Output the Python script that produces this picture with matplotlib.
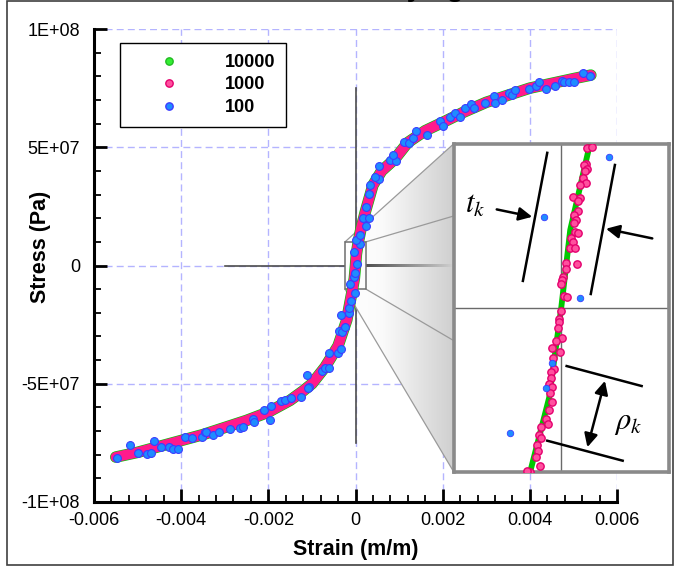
import numpy as np
import matplotlib
matplotlib.use("Agg")
import matplotlib.pyplot as plt
from matplotlib.lines import Line2D
from matplotlib.patches import Rectangle, Polygon
from matplotlib.colors import LinearSegmentedColormap
from matplotlib.ticker import AutoMinorLocator

plt.rcParams["font.family"] = ["Liberation Sans", "DejaVu Sans"]
plt.rcParams["axes.unicode_minus"] = False
plt.rcParams["mathtext.fontset"] = "stix"

# ---- data -------------------------------------------------------------
# mean response curve (10000 / 1000 sample runs), strain in 1e-3, stress in 1e7 Pa
curve_strain = np.array([-5.5, -5.0, -4.5, -4.0, -3.5, -3.0, -2.5, -2.0, -1.5, -1.2,
                         -1.0, -0.7, -0.4, -0.2, -0.12, -0.069, -0.027, 0.0, 0.020,
                         0.063, 0.12, 0.23, 0.4, 0.6, 0.9, 1.2, 1.6, 2.0, 2.5, 3.0,
                         3.5, 4.0, 4.5, 5.0, 5.4]) * 1e-3
curve_stress = np.array([-8.1, -7.9, -7.65, -7.4, -7.15, -6.85, -6.55, -6.2, -5.7, -5.3,
                         -5.0, -4.3, -3.4, -2.3, -1.5, -1.0, -0.55, 0.0, 0.475,
                         0.99, 1.5, 2.3, 3.4, 4.0, 4.5, 5.2, 5.7, 6.05, 6.5, 6.9,
                         7.2, 7.5, 7.7, 7.9, 8.05]) * 1e7

# 1000-sample points near the origin (strain in 1e-6, stress in 1e6 Pa)
pink_strain = np.array([56.7, 68.7, 55.2, 51.5, 56.7, 53.0, 47.7, 55.2, 42.5, 25.2,
                        42.5, 37.9, 36.4, 28.9, 32.7, 28.9, 31.2, 37.9, 21.4, 25.2,
                        19.9, 31.2, 34.9, 10.1, 10.1, 4.9, 2.6, -1.1, 6.4, 12.4,
                        0.4, -4.9, -4.9, -7.1, 2.6, -12.4, -19.9, -2.6, -17.7, -16.2,
                        -23.7, -23.7, -27.4, -21.4, -25.9, -19.9, -27.4, -34.9, -29.7, -46.2,
                        -49.9, -46.2, -53.7, -51.5, -56.0, -47.7, -68.7, -76.2]) * 1e-6
pink_stress = np.array([9.73, 9.79, 8.80, 8.70, 8.49, 8.35, 7.94, 7.63, 7.47, 6.77,
                        6.70, 6.50, 5.88, 5.68, 5.37, 5.16, 4.65, 4.55, 4.24, 4.03,
                        3.62, 3.62, 2.69, 2.74, 2.39, 1.87, 1.71, 1.46, 0.74, 0.68,
                        -0.19, -0.70, -0.90, -1.21, -1.83, -2.04, -2.45, -2.69, -3.06, -3.72,
                        -3.93, -4.30, -4.67, -4.87, -5.22, -5.74, -6.25, -6.77, -7.12, -7.28,
                        -7.79, -7.96, -8.41, -8.72, -9.13, -9.65, -10.0, -9.95]) * 1e6

# 100-sample points (strain in 1e-3, stress in 1e7 Pa)
blue_strain = np.array([-5.48, -5.18, -5.00, -4.79, -4.70, -4.63, -4.47, -4.27, -4.18, -4.08,
                        -3.92, -3.76, -3.53, -3.46, -3.42, -3.28, -3.14, -2.87, -2.64, -2.59,
                        -2.36, -2.34, -2.11, -1.97, -1.95, -1.70, -1.61, -1.49, -1.26, -1.12,
                        -1.06, -1.10, -0.76, -0.71, -0.60, -0.60, -0.41, -0.34, -0.37, -0.30,
                        -0.25, -0.34, -0.14, -0.14, -0.11, -0.02, -0.115, -0.034, -0.020, 0.042,
                        -0.039, 0.106, 0.02, 0.11, 0.23, 0.18, 0.32, 0.23, 0.30, 0.34,
                        0.53, 0.44, 0.55, 0.80, 0.92, 0.87, 1.12, 1.22, 1.31, 1.38,
                        1.63, 1.93, 2.00, 2.16, 2.29, 2.39, 2.52, 2.64, 2.73, 2.96,
                        3.17, 3.21, 3.37, 3.53, 3.60, 3.67, 3.99, 4.15, 4.22, 4.36,
                        4.57, 4.73, 4.79, 4.91, 5.02, 5.21, 5.39]) * 1e-3
blue_stress = np.array([-8.12, -7.61, -7.91, -7.99, -7.91, -7.44, -7.69, -7.69, -7.78, -7.74,
                        -7.27, -7.31, -7.27, -7.02, -7.06, -7.15, -7.02, -6.93, -6.85, -6.81,
                        -6.47, -6.60, -6.09, -6.55, -5.92, -5.75, -5.67, -5.62, -5.58, -4.65,
                        -5.12, -5.16, -4.48, -4.35, -4.35, -3.72, -3.72, -3.55, -2.79, -2.83,
                        -2.62, -2.11, -1.99, -1.78, -1.48, -1.18, -0.765, -0.491, -0.337, 0.059,
                        0.557, 0.921, 1.06, 1.31, 1.65, 1.99, 1.99, 2.49, 3.04, 3.42,
                        3.64, 3.76, 4.19, 4.44, 4.40, 4.69, 5.24, 5.20, 5.37, 5.67,
                        5.50, 6.09, 5.88, 6.30, 6.43, 6.30, 6.68, 6.81, 6.64, 6.89,
                        7.15, 6.89, 6.98, 7.31, 7.19, 7.40, 7.48, 7.57, 7.78, 7.48,
                        7.61, 7.82, 7.74, 7.78, 7.74, 8.16, 8.03]) * 1e7

series_labels = ["10000", "1000", "100"]
x_ticks = [-0.006, -0.004, -0.002, 0, 0.002, 0.004, 0.006]
x_tick_labels = ["-0.006", "-0.004", "-0.002", "0", "0.002", "0.004", "0.006"]
y_ticks = [-1e8, -5e7, 0, 5e7, 1e8]
y_tick_labels = ["-1E+08", "-5E+07", "0", "5E+07", "1E+08"]

# zoomed window
zoom_x = 0.24e-3
zoom_y = 1e7

green = "#00c800"
pink = "#ff1a8c"
pink_face, pink_edge = "#ff509e", "#e4006e"
blue_face, blue_edge = "#1e8cff", "#3c3cff"

# ---- figure -----------------------------------------------------------
W, H = 682, 566
fig = plt.figure(figsize=(W / 100, H / 100), dpi=100)
fig.patches.append(Rectangle((7 / W, 1 / H), 666 / W, 564 / H, fill=False,
                             ec="#404040", lw=1.2, transform=fig.transFigure))
# title sits above the frame, only its descenders show
fig.text(0.437, 1.0075, "Stress-Strain Curves at Varying Rates", fontsize=20,
         fontweight="bold", ha="center", va="baseline")

ax = fig.add_axes([94 / W, 64 / H, 523 / W, 473 / H])
ax.set_xlim(-0.006, 0.006)
ax.set_ylim(-1e8, 1e8)
ax.spines[["top", "right"]].set_visible(False)
for s in ["left", "bottom"]:
    ax.spines[s].set_linewidth(2.2)
ax.set_xticks(x_ticks)
ax.set_xticklabels(x_tick_labels)
ax.set_yticks(y_ticks)
ax.set_yticklabels(y_tick_labels)
ax.xaxis.set_minor_locator(AutoMinorLocator(5))
ax.yaxis.set_minor_locator(AutoMinorLocator(5))
ax.tick_params(which="major", direction="in", length=9.5, width=2, labelsize=13)
ax.tick_params(axis="x", which="major", pad=7)
ax.tick_params(axis="y", which="major", pad=10)
ax.tick_params(which="minor", direction="in", length=5, width=1.3)
ax.grid(True, which="major", color="#b4b4ff", ls=(0, (5, 3)), lw=1)
ax.set_xlabel("Strain (m/m)", fontsize=15.5, fontweight="bold")
ax.set_ylabel("Stress (Pa)", fontsize=15.5, fontweight="bold")
ax.xaxis.set_label_coords(0.5, -0.078)
ax.yaxis.set_label_coords(-0.082, 0.54)

# crosshair through the origin
ax.plot([0, 0], [-7.5e7, 7.5e7], color="#4d4d4d", lw=1.2, zorder=1.8)
ax.plot([-0.003, -zoom_x], [0, 0], color="#4d4d4d", lw=1.2, zorder=1.8)

# curves
ax.plot(curve_strain, curve_stress, color=green, lw=8.3, solid_capstyle="round", zorder=3)
ax.plot(curve_strain, curve_stress, color=pink, lw=7.4, solid_capstyle="round", zorder=3.2)
ax.scatter(blue_strain, blue_stress, s=32, c=blue_face, edgecolors=blue_edge,
           linewidths=0.8, zorder=4)

# legend
handles = [
    Line2D([], [], ls="none", marker="o", ms=5.3, mfc="#33ee33", mec="#22bb22"),
    Line2D([], [], ls="none", marker="o", ms=5.3, mfc=pink_face, mec=pink_edge),
    Line2D([], [], ls="none", marker="o", ms=5.3, mfc=blue_face, mec=blue_edge),
]
leg = ax.legend(handles, series_labels, loc="upper left", bbox_to_anchor=(0.0497, 0.970),
                borderaxespad=0, fancybox=False, framealpha=1, edgecolor="black",
                prop={"size": 13, "weight": "bold"}, handlelength=4.2,
                handletextpad=1.0, borderpad=0.6, labelspacing=0.3)
leg.get_frame().set_linewidth(1)
leg.set_zorder(6)

# inset
axins = fig.add_axes([453.5 / W, 94.5 / H, 215.5 / W, 327.5 / H])
axins.set_xlim(-zoom_x, zoom_x)
axins.set_ylim(-zoom_y, zoom_y)
axins.set_xticks([])
axins.set_yticks([])
for s in axins.spines.values():
    s.set_linewidth(2.6)
    s.set_color("#8a8a8a")
axins.axvline(0, color="#6a6a6a", lw=1)
axins.axhline(0, color="#6a6a6a", lw=1)
axins.plot(curve_strain, curve_stress, color=green, lw=4.2, zorder=3)
axins.scatter(pink_strain, pink_stress, s=28, c=pink_face, edgecolors=pink_edge,
              linewidths=1, zorder=4)
axins.scatter(blue_strain, blue_stress, s=22, c=blue_face, edgecolors=blue_edge,
              linewidths=0.6, zorder=5)

# t_k / rho_k markup
kw = dict(color="black", lw=1.8, transform=axins.transAxes)
axins.plot([0.435, 0.322], [0.973, 0.582], **kw)
axins.plot([0.749, 0.637], [0.936, 0.542], **kw)
axins.plot([0.525, 0.873], [0.322, 0.261], **kw)
axins.plot([0.435, 0.785], [0.094, 0.033], **kw)
ap = dict(arrowstyle="-|>", color="black", lw=1.8, mutation_scale=20)
axins.annotate("", xy=(0.378, 0.776), xytext=(0.188, 0.802), xycoords="axes fraction",
               arrowprops=ap)
axins.annotate("", xy=(0.695, 0.743), xytext=(0.935, 0.710), xycoords="axes fraction",
               arrowprops=ap)
axins.annotate("", xy=(0.618, 0.066), xytext=(0.706, 0.285), xycoords="axes fraction",
               arrowprops=dict(ap, arrowstyle="<|-|>"))
axins.text(0.10, 0.814, r"$t_k$", fontsize=22, ha="center", va="center",
           transform=axins.transAxes)
axins.text(0.811, 0.152, r"$\rho_k$", fontsize=22, ha="center", va="center",
           transform=axins.transAxes)

# magnifier cone from the zoom box to the inset
to_main = ax.transData.inverted()
tl = to_main.transform(axins.transAxes.transform((0, 1)))
bl = to_main.transform(axins.transAxes.transform((0, 0)))
upper = to_main.transform(axins.transAxes.transform((0, 0.78)))
lower = to_main.transform(axins.transAxes.transform((0, 0.40)))
mid = to_main.transform(axins.transAxes.transform((0, 0.5)))

cone = Polygon([(-zoom_x, zoom_y), tl, bl, (-zoom_x, -zoom_y)], closed=True,
               facecolor="none", edgecolor="none", transform=ax.transData)
ax.add_patch(cone)
grad_cmap = LinearSegmentedColormap.from_list(
    "cone", [(0, "white"), (0.35, "#fafafa"), (1, "#cfcfcf")])
img = ax.imshow(np.linspace(0, 1, 256).reshape(1, -1), cmap=grad_cmap, aspect="auto",
                extent=[-zoom_x, tl[0], bl[1], tl[1]], zorder=2.2, interpolation="bilinear")
img.set_clip_path(cone)

# darkening centre line inside the cone
line_cmap = LinearSegmentedColormap.from_list("cline", ["#505050", "#d0d0d0"])
band = np.linspace(0, 1, 256).reshape(1, -1)
ax.imshow(band, cmap=line_cmap, aspect="auto", interpolation="bilinear",
          extent=[zoom_x, mid[0], -0.55e6, 0.55e6], zorder=2.35)
ax.set_xlim(-0.006, 0.006)
ax.set_ylim(-1e8, 1e8)

edge_kw = dict(color="#9a9a9a", lw=0.9, zorder=2.3, clip_on=False)
ax.plot([-zoom_x, tl[0]], [zoom_y, tl[1]], **edge_kw)
ax.plot([-zoom_x, bl[0]], [-zoom_y, bl[1]], **edge_kw)
ax.plot([zoom_x, upper[0]], [zoom_y, upper[1]], **edge_kw)
ax.plot([zoom_x, lower[0]], [-zoom_y, lower[1]], **edge_kw)

ax.add_patch(Rectangle((-zoom_x, -zoom_y), 2 * zoom_x, 2 * zoom_y, fill=False,
                       ec="#6e6e6e", lw=1.1, zorder=2.5))

fig.savefig("out.png", dpi=100)
